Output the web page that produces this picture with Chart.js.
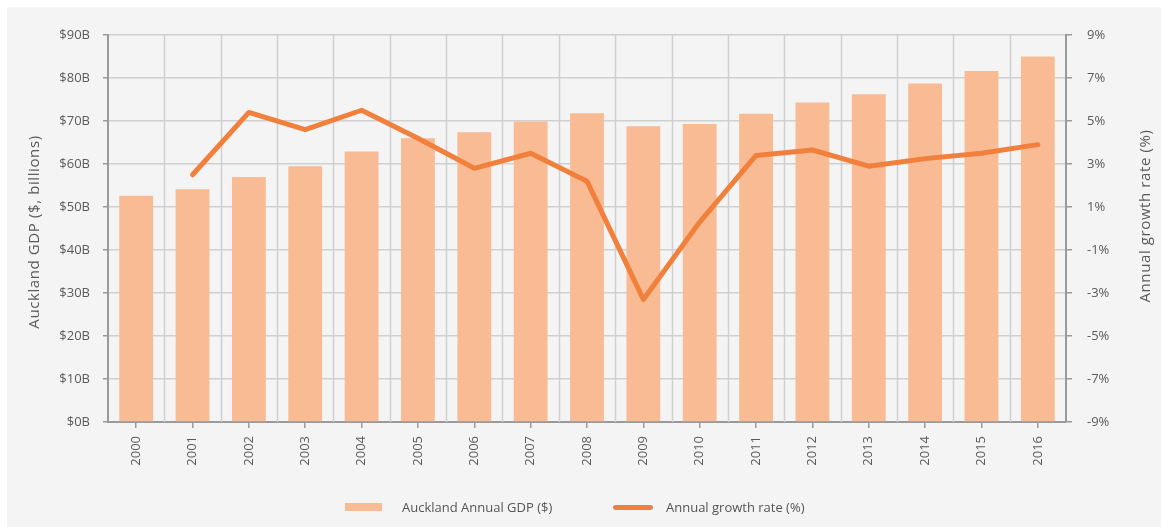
<!DOCTYPE html>
<html>
<head>
<meta charset="utf-8">
<script src="https://cdn.jsdelivr.net/npm/chart.js@4.4.1/dist/chart.umd.min.js"></script>
<style>
  html, body { margin: 0; padding: 0; background: #ffffff; }
  #wrap { position: relative; width: 1161px; height: 527px; overflow: hidden; }
  #gdpChart { position: absolute; left: 0; top: 0; }
  #legend { position: absolute; left: 0; top: 0; width: 1161px; height: 527px; pointer-events: none;
            font-family: "Open Sans", sans-serif; font-size: 13px; color: #555555; }
  #legend .item { position: absolute; top: 498px; height: 18px; line-height: 18px; white-space: nowrap; }
  #legend .swatch { position: absolute; }
  #legend .text { position: absolute; top: 0; }
</style>
</head>
<body>
<div id="wrap">
  <canvas id="gdpChart" width="1161" height="527"></canvas>
  <div id="legend"></div>
</div>
<script>
const years = ['2000', '2001', '2002', '2003', '2004', '2005', '2006', '2007', '2008',
               '2009', '2010', '2011', '2012', '2013', '2014', '2015', '2016'];

// Auckland GDP, $ billions
const gdpBillions = [52.6, 54.1, 57.0, 59.5, 62.9, 66.0, 67.4, 69.9, 71.8,
                     68.8, 69.3, 71.7, 74.3, 76.2, 78.7, 81.6, 85.0];

// year-on-year growth, %
const growthPct = [null, 2.5, 5.4, 4.6, 5.5, 4.2, 2.8, 3.5, 2.2,
                   -3.3, 0.3, 3.4, 3.65, 2.9, 3.25, 3.5, 3.9];

const gdpTicks = [0, 10, 20, 30, 40, 50, 60, 70, 80, 90];
const growthTicks = [-9, -7, -5, -3, -1, 1, 3, 5, 7, 9];

const gdpLabel = 'Auckland Annual GDP ($)';
const growthLabel = 'Annual growth rate (%)';
const gdpAxisTitle = 'Auckland GDP ($, billions)';
const growthAxisTitle = 'Annual growth rate (%)';

const BAR_COLOR = '#f8bb93';
const LINE_COLOR = '#f0803c';
const AXIS_COLOR = '#9a9a9a';
const GRID_COLOR = '#d0d0d0';
const TEXT_COLOR = '#5a5a5a';
const FONT = '"Open Sans", sans-serif';

// grey card behind everything
const panelBg = {
    id: 'panelBg',
    beforeDraw(chart) {
        const { ctx, width, height } = chart;
        ctx.save();
        ctx.fillStyle = '#ffffff';
        ctx.fillRect(0, 0, width, height);
        ctx.fillStyle = '#f4f4f4';
        ctx.fillRect(7, 7, width - 7, height - 7);
        ctx.restore();
    }
};

// vertical grid lines sit between the years, tick marks stay on the years
const yearDividers = {
    id: 'yearDividers',
    beforeDatasetsDraw(chart) {
        const { ctx, chartArea, scales } = chart;
        const x = scales.x;
        ctx.save();
        ctx.strokeStyle = GRID_COLOR;
        ctx.lineWidth = 1.5;
        for (let i = 1; i < years.length; i++) {
            const px = Math.round((x.getPixelForValue(i - 1) + x.getPixelForValue(i)) / 2) + 0.5;
            ctx.beginPath();
            ctx.moveTo(px, chartArea.top);
            ctx.lineTo(px, chartArea.bottom);
            ctx.stroke();
        }
        ctx.restore();
    }
};

// both axis titles read bottom-to-top
const axisTitles = {
    id: 'axisTitles',
    afterDraw(chart) {
        const { ctx } = chart;
        ctx.save();
        ctx.fillStyle = TEXT_COLOR;
        ctx.font = '15px ' + FONT;
        if ('letterSpacing' in ctx) ctx.letterSpacing = '0.6px';
        ctx.textAlign = 'center';
        ctx.textBaseline = 'middle';
        [[35, 232, gdpAxisTitle], [1146, 216, growthAxisTitle]].forEach(([tx, ty, txt]) => {
            ctx.save();
            ctx.translate(tx, ty);
            ctx.rotate(-Math.PI / 2);
            ctx.fillText(txt, 0, 0);
            ctx.restore();
        });
        ctx.restore();
    }
};

const chart = new Chart(document.getElementById('gdpChart'), {
    data: {
        labels: years,
        datasets: [
            {
                type: 'line',
                label: growthLabel,
                data: growthPct,
                yAxisID: 'y1',
                borderColor: LINE_COLOR,
                backgroundColor: LINE_COLOR,
                borderWidth: 5,
                borderCapStyle: 'round',
                borderJoinStyle: 'round',
                pointRadius: 0,
                tension: 0,
                spanGaps: false,
                order: 1
            },
            {
                type: 'bar',
                label: gdpLabel,
                data: gdpBillions,
                yAxisID: 'y',
                backgroundColor: BAR_COLOR,
                borderWidth: 0,
                categoryPercentage: 1,
                barPercentage: 0.6,
                order: 2
            }
        ]
    },
    plugins: [panelBg, yearDividers, axisTitles],
    options: {
        responsive: false,
        animation: false,
        devicePixelRatio: 1,
        layout: { padding: { top: 35, left: 0, right: 0, bottom: 0 } },
        plugins: {
            legend: { display: false },
            tooltip: { enabled: false }
        },
        scales: {
            x: {
                offset: true,
                grid: { offset: false, drawOnChartArea: false, tickLength: 6, tickColor: AXIS_COLOR, lineWidth: 1.5 },
                border: { color: AXIS_COLOR, width: 2 },
                ticks: {
                    color: TEXT_COLOR, font: { family: FONT, size: 13 },
                    minRotation: 90, maxRotation: 90, padding: 8, autoSkip: false
                },
                afterFit(scale) { scale.height = 105; }
            },
            y: {
                position: 'left',
                min: 0,
                max: 90,
                afterBuildTicks(scale) { scale.ticks = gdpTicks.map(v => ({ value: v })); },
                grid: { color: GRID_COLOR, lineWidth: 1.5, tickLength: 5, tickColor: AXIS_COLOR },
                border: { color: AXIS_COLOR, width: 2 },
                ticks: {
                    color: TEXT_COLOR, font: { family: FONT, size: 13 }, padding: 13,
                    callback: v => '$' + v + 'B'
                },
                afterFit(scale) { scale.width = 108; }
            },
            y1: {
                position: 'right',
                min: -9,
                max: 9,
                afterBuildTicks(scale) { scale.ticks = growthTicks.map(v => ({ value: v })); },
                grid: { drawOnChartArea: false, tickLength: 6, tickColor: AXIS_COLOR, lineWidth: 1.5 },
                border: { color: AXIS_COLOR, width: 2 },
                ticks: {
                    color: TEXT_COLOR, font: { family: FONT, size: 13 }, padding: 15,
                    callback: v => v + '%'
                },
                afterFit(scale) { scale.width = 95; }
            }
        }
    }
});

// HTML legend built from the chart's datasets (bar first, then line)
const legendEl = document.getElementById('legend');
const legendSlots = [
    { type: 'bar', left: 345, swatchW: 37, swatchH: 8, textLeft: 57 },
    { type: 'line', left: 613, swatchW: 40, swatchH: 5, textLeft: 53 }
];
legendSlots.forEach(slot => {
    const ds = chart.data.datasets.find(d => d.type === slot.type);
    const item = document.createElement('div');
    item.className = 'item';
    item.style.left = slot.left + 'px';
    const sw = document.createElement('div');
    sw.className = 'swatch';
    sw.style.left = '0px';
    sw.style.top = (9 - slot.swatchH / 2) + 'px';
    sw.style.width = slot.swatchW + 'px';
    sw.style.height = slot.swatchH + 'px';
    sw.style.background = slot.type === 'bar' ? ds.backgroundColor : ds.borderColor;
    if (slot.type === 'line') sw.style.borderRadius = '3px';
    const tx = document.createElement('div');
    tx.className = 'text';
    tx.style.left = slot.textLeft + 'px';
    tx.textContent = ds.label;
    item.appendChild(sw);
    item.appendChild(tx);
    legendEl.appendChild(item);
});
</script>
</body>
</html>
